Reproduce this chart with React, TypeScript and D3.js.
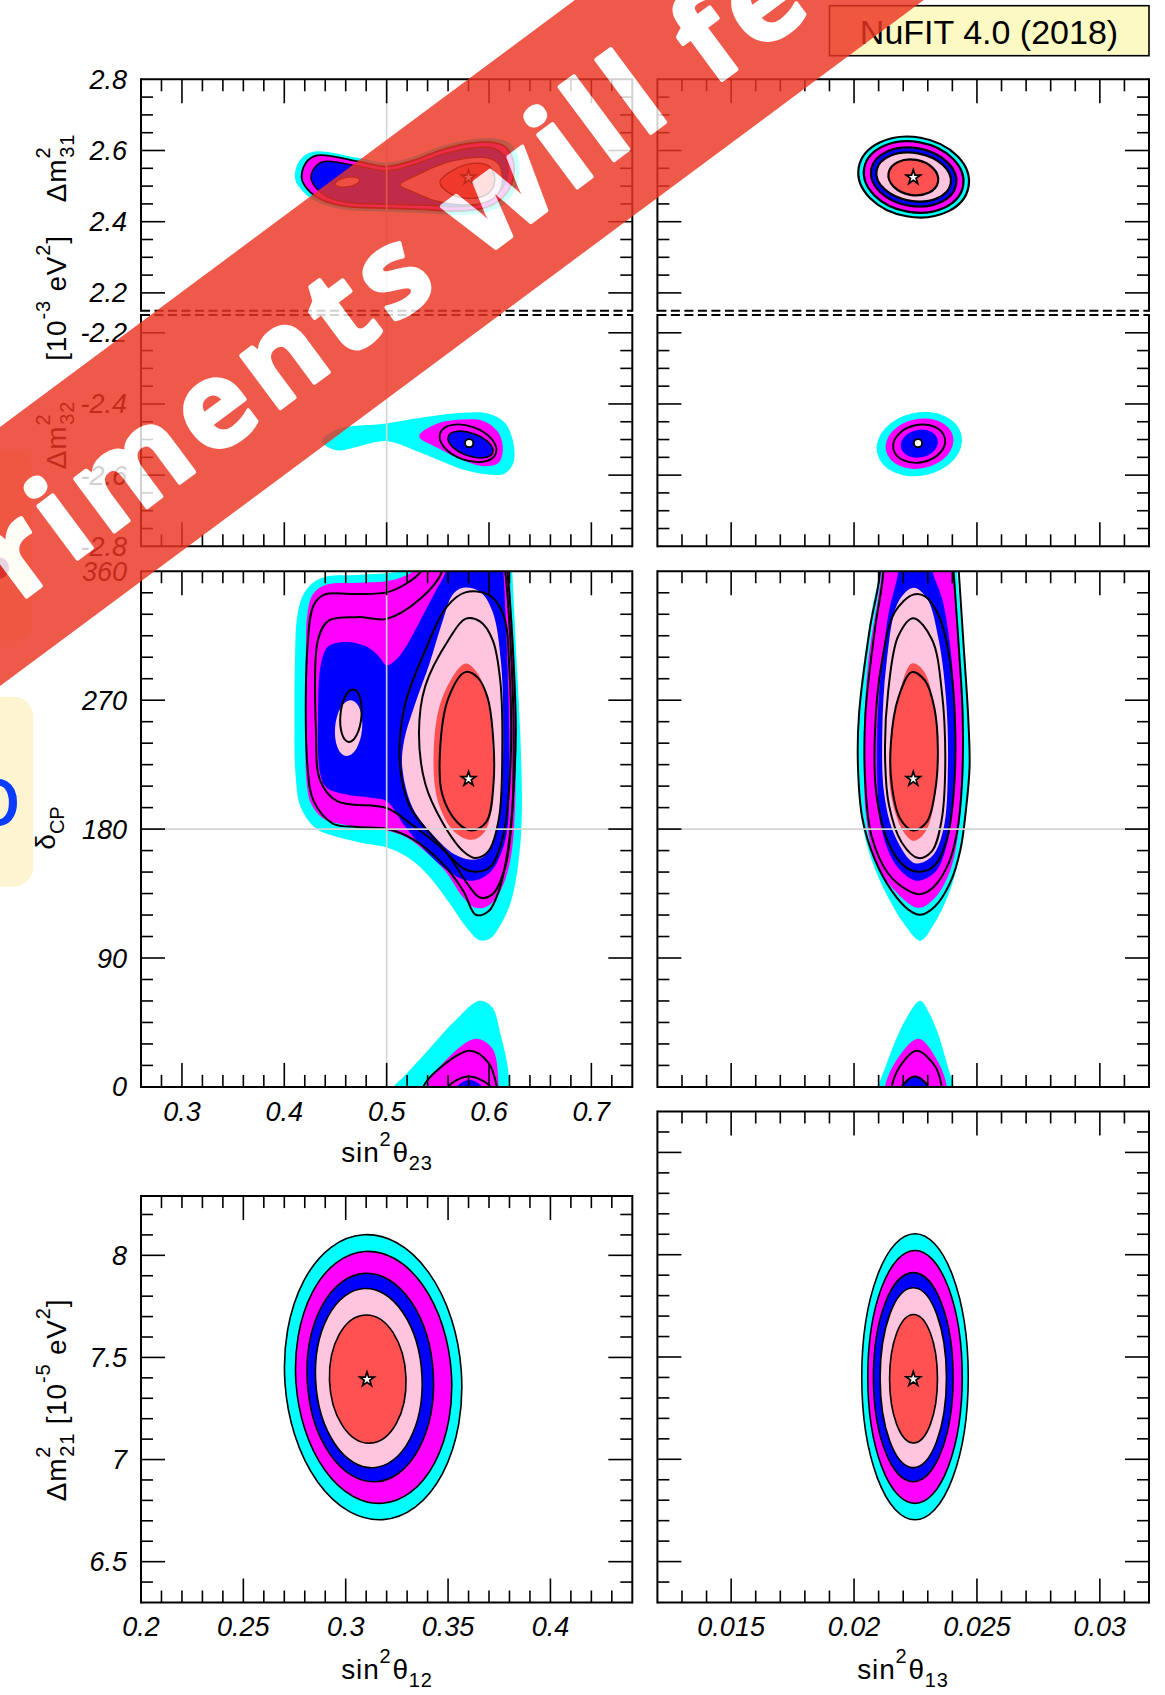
import React from 'react';
import * as d3 from 'd3';

type Pt = [number, number];
type Ell = [number, number, number, number, number]; // cx, cy, rx, ry (data units), tilt (deg)
type Shape = Pt[] | Ell;

// ---------------- axis ranges ----------------
const SIN2_TH23_RANGE: Pt = [0.26, 0.74];
const SIN2_TH12_RANGE: Pt = [0.2, 0.44];
const SIN2_TH13_RANGE: Pt = [0.012, 0.032];
const DM31_RANGE: Pt = [2.15, 2.8];
const DM32_RANGE: Pt = [-2.8, -2.15];
const DCP_RANGE: Pt = [0, 360];
const DM21_RANGE_LEFT: Pt = [6.3, 8.29];
const DM21_RANGE_RIGHT: Pt = [6.3, 8.7];

// tick steps [minor, major]
const SIN2_TH23_STEPS: Pt = [0.02, 0.1];
const SIN2_TH12_STEPS: Pt = [0.01, 0.05];
const SIN2_TH13_STEPS: Pt = [0.001, 0.005];
const DM3L_STEPS: Pt = [0.05, 0.2];
const DCP_STEPS: Pt = [15, 90];
const DM21_STEPS: Pt = [0.1, 0.5];

// tick labels
const SIN2_TH23_LABELS = [0.3, 0.4, 0.5, 0.6, 0.7];
const SIN2_TH12_LABELS = [0.2, 0.25, 0.3, 0.35, 0.4];
const SIN2_TH13_LABELS = [0.015, 0.02, 0.025, 0.03];
const DM31_LABELS = [2.2, 2.4, 2.6, 2.8];
const DM32_LABELS = [-2.2, -2.4, -2.6, -2.8];
const DCP_LABELS = [0, 90, 180, 270, 360];
const DM21_LABELS = [6.5, 7, 7.5, 8];

// reference lines
const GRID_TH23 = 0.5;
const GRID_DCP = 180;

// best-fit points
const BF_TH12 = 0.3104, BF_TH13 = 0.02241, BF_TH23 = 0.58, BF_DCP = 215, BF_DM21 = 7.392, BF_DM31 = 2.5245;
const BF_IO_TH23 = 0.5806, BF_IO_TH13 = 0.0226, BF_IO_DM32 = -2.51;

// ---------------- sin^2 th23 vs dm31 ----------------
const T23_DM31_CYAN: Pt[] = [[0.4104,2.5218],[0.4153,2.5732],[0.4283,2.5965],[0.4739,2.578],[0.4999,2.5656],[0.5259,2.5825],[0.552,2.6106],[0.5781,2.6294],[0.604,2.6342],[0.6204,2.6201],[0.6285,2.5825],[0.6294,2.5262],[0.6236,2.4796],[0.6106,2.4419],[0.5911,2.4234],[0.565,2.4186],[0.539,2.4234],[0.5005,2.4279],[0.4609,2.4327],[0.4348,2.4515],[0.4185,2.4841]];
const T23_DM31_MAGENTA: Pt[] = [[0.417,2.522],[0.421,2.565],[0.432,2.586],[0.474,2.568],[0.5,2.555],[0.526,2.572],[0.552,2.6],[0.578,2.619],[0.603,2.623],[0.616,2.61],[0.623,2.578],[0.624,2.527],[0.618,2.484],[0.606,2.452],[0.59,2.435],[0.565,2.43],[0.539,2.434],[0.5,2.438],[0.461,2.443],[0.437,2.461],[0.423,2.49]];
const T23_DM31_BLUE: Pt[] = [[0.426,2.523],[0.43,2.553],[0.439,2.569],[0.474,2.555],[0.5,2.543],[0.526,2.56],[0.552,2.587],[0.578,2.605],[0.601,2.609],[0.611,2.597],[0.617,2.575],[0.618,2.528],[0.612,2.49],[0.601,2.462],[0.587,2.447],[0.565,2.442],[0.539,2.446],[0.5,2.449],[0.462,2.454],[0.442,2.47],[0.431,2.495]];
const T23_DM31_PINK: Pt[] = [[0.513,2.503],[0.532,2.534],[0.552,2.56],[0.578,2.578],[0.6,2.578],[0.61,2.56],[0.613,2.51],[0.607,2.472],[0.594,2.452],[0.571,2.448],[0.546,2.46],[0.526,2.484]];
const T23_DM31_RED: Pt[] = [[0.552,2.5122],[0.565,2.5451],[0.5845,2.5639],[0.6008,2.5544],[0.6057,2.517],[0.5992,2.4796],[0.5813,2.4655],[0.5618,2.4796]];
const T23_DM31_ISLAND: Ell = [0.4617, 2.5114, 0.0122, 0.0132, -10];

// ---------------- sin^2 th23 vs dm32 ----------------
const T23_DM32_CYAN: Pt[] = [[0.4368,-2.5045],[0.4511,-2.4716],[0.4997,-2.4548],[0.5333,-2.4388],[0.5745,-2.4247],[0.5991,-2.4267],[0.6155,-2.4528],[0.6238,-2.509],[0.6238,-2.5652],[0.6155,-2.5952],[0.5989,-2.598],[0.5745,-2.584],[0.5334,-2.537],[0.4997,-2.5045],[0.4511,-2.5298]];
const T23_DM32_MAGENTA: Pt[] = [[0.5318,-2.4904],[0.5497,-2.4548],[0.5765,-2.4436],[0.595,-2.4483],[0.6093,-2.4809],[0.6135,-2.5278],[0.6093,-2.5652],[0.595,-2.5747],[0.5745,-2.5579],[0.5497,-2.523]];
const T23_DM32_RING: Ell = [0.5795, -2.5104, 0.0289, 0.0475, 20];
const T23_DM32_BLUE: Ell = [0.5819, -2.514, 0.0231, 0.0318, 20];

// ---------------- sin^2 th23 vs delta_CP ----------------
const T23_DCP_CYAN: Pt[] = [[0.58,376],[0.535,370],[0.5227,361.5],[0.505,359],[0.47,357.5],[0.442,356.5],[0.428,352],[0.418,343],[0.4125,328],[0.4105,300],[0.41,260],[0.4109,219],[0.4162,195],[0.4306,180.6],[0.4511,174.6],[0.4799,169.8],[0.4997,167.4],[0.521,160.1],[0.5416,146.9],[0.5621,127.6],[0.5786,110.8],[0.5909,102.4],[0.6011,103.6],[0.6114,113.2],[0.6217,130],[0.6287,156.6],[0.632,187.8],[0.6311,236],[0.6279,284.2],[0.6246,332.3],[0.6228,360],[0.622,372]];
const T23_DCP_MAGENTA: Pt[] = [[0.585,376],[0.535,368],[0.528,361],[0.517,356.5],[0.5,353],[0.472,352],[0.44,350.5],[0.428,344],[0.4225,330],[0.421,300],[0.421,250],[0.4215,215],[0.426,198],[0.437,188],[0.455,183.5],[0.48,181],[0.5,179],[0.52,174],[0.54,163],[0.558,150],[0.574,133],[0.587,125],[0.598,126],[0.608,133],[0.6165,146],[0.6225,166],[0.6255,195],[0.626,236],[0.6245,284],[0.6215,332],[0.62,360],[0.618,372]];
const T23_DCP_BLUE: Pt[] = [[0.563,376],[0.558,360],[0.546,343.7],[0.5337,326.8],[0.521,310],[0.509,298],[0.5,294.4],[0.4926,300.4],[0.48,307.6],[0.46,310.7],[0.443,307.6],[0.436,296],[0.433,260],[0.435,219],[0.4412,209.1],[0.4597,204.3],[0.4844,201.9],[0.5,199.5],[0.5173,182.6],[0.5337,168.2],[0.5543,153.8],[0.5728,145.4],[0.587,144.2],[0.6015,150.2],[0.612,163.4],[0.618,180.2],[0.62,223.5],[0.618,295.6],[0.614,360],[0.612,376]];
const T23_DCP_PINK: Pt[] = [[0.5748,348.5],[0.5912,345.7],[0.6036,331.6],[0.6118,295.6],[0.6139,247.5],[0.6118,199.5],[0.6056,175.4],[0.5954,161],[0.583,158.6],[0.5666,162.2],[0.546,175.4],[0.5255,194.7],[0.5152,223.5],[0.5173,242.7],[0.5275,266.8],[0.5419,295.6],[0.5543,324.4],[0.5645,343.7]];
const T23_DCP_PINK_ISLAND: Ell = [0.4628, 250.5, 0.0132, 19.5, 5];
const T23_DCP_RED: Pt[] = [[0.5769,295.6],[0.5543,271.6],[0.546,235.5],[0.5501,199.5],[0.5666,177.8],[0.583,172.5],[0.5954,177.8],[0.6036,199.5],[0.6036,235.5],[0.5995,266.8],[0.5892,288.4]];
const T23_DCP_CYAN_LOW: Pt[] = [[0.5,-10],[0.5066,0],[0.5168,7.3],[0.5416,26.5],[0.5662,45.8],[0.5909,60.2],[0.6032,55.5],[0.6114,36.2],[0.6176,16.9],[0.6205,0],[0.622,-10]];
const T23_DCP_MAGENTA_LOW: Pt[] = [[0.535,-10],[0.5378,0],[0.5584,19.2],[0.587,33.6],[0.6036,26.4],[0.6097,0],[0.611,-10]];
const T23_DCP_BLUE_LOW: Pt[] = [[0.566,-10],[0.5686,0],[0.581,4.8],[0.5933,0],[0.595,-10]];
const T23_DCP_LINE_1: Pt[] = [[0.54,372],[0.5337,360],[0.5173,350.6],[0.5,345.3],[0.4721,344.1],[0.4392,343.7],[0.4288,336.5],[0.4227,307.6],[0.4227,223.5],[0.4288,199.5],[0.4474,183.9],[0.4721,181.5],[0.5,180.2],[0.5255,173],[0.5543,156.2],[0.5748,137],[0.587,120.2],[0.5995,122.6],[0.6097,137],[0.618,163.4],[0.6233,199.5],[0.6262,247.5],[0.6241,295.6],[0.62,343.7],[0.618,360],[0.617,374],[0.58,378]];
const T23_DCP_LINE_2: Pt[] = [[0.556,374],[0.5543,360],[0.5337,341.3],[0.5,326.8],[0.4721,328],[0.4433,325.6],[0.433,312.4],[0.431,247.5],[0.4351,213.9],[0.4515,199.5],[0.5,194.7],[0.5255,182.6],[0.5584,163.4],[0.5789,141.8],[0.5912,132.2],[0.6036,134.6],[0.6159,153.8],[0.6221,185],[0.6241,247.5],[0.6221,295.6],[0.618,343.7],[0.6159,360],[0.615,374],[0.585,378]];
const T23_DCP_LINE_3: Pt[] = [[0.5769,345.3],[0.5584,335],[0.5378,305],[0.5173,265],[0.5132,223.5],[0.5234,194.7],[0.5501,170.7],[0.5748,152.6],[0.587,150.2],[0.6015,153.8],[0.6139,175.4],[0.6209,223.5],[0.62,290],[0.6139,330],[0.5995,343.7]];
const T23_DCP_LINE_4: Pt[] = [[0.5769,326.8],[0.5604,312],[0.5378,280],[0.5316,247.5],[0.5378,211.5],[0.5543,185],[0.5748,164.6],[0.587,159.8],[0.5995,164.6],[0.6097,187.4],[0.613,235.5],[0.611,283.6],[0.6036,312],[0.5912,325]];
const T23_DCP_LINE_5: Pt[] = [[0.5769,289.6],[0.5604,271.6],[0.5522,235.5],[0.5543,204.3],[0.5687,185],[0.583,179],[0.5974,185],[0.6044,211.5],[0.6036,247.5],[0.5987,271.6],[0.5892,285.6]];
const T23_DCP_LINE_ISLAND: Ell = [0.4651, 259.2, 0.0103, 18.4, 5];
const T23_DCP_LINE_LOW_1: Pt[] = [[0.533,-10],[0.5357,0],[0.55,12],[0.581,25.2],[0.5995,16.8],[0.6077,0],[0.609,-10]];
const T23_DCP_LINE_LOW_2: Pt[] = [[0.558,-10],[0.56,0],[0.5802,7.2],[0.6015,0],[0.603,-10]];

// ---------------- sin^2 th13 vs dm31 / dm32 ----------------
const T13_DM31_LEVELS: Ell[] = [
  [0.022425, 2.5255, 0.002268, 0.112, 10],
  [0.022425, 2.5255, 0.002044, 0.0989, 10],
  [0.022425, 2.5255, 0.001757, 0.0815, 10],
  [0.022425, 2.5255, 0.001533, 0.0675, 10],
  [0.022412, 2.5245, 0.001022, 0.0497, 10],
];
const T13_DM32_CYAN: Ell = [0.022657, -2.5129, 0.001757, 0.0889, -12];
const T13_DM32_MAGENTA: Ell = [0.022664, -2.5115, 0.001396, 0.0696, -12];
const T13_DM32_RING: Ell = [0.02265, -2.5115, 0.00107, 0.0527, -12];
const T13_DM32_BLUE: Ell = [0.022657, -2.5115, 0.000763, 0.0386, -12];

// ---------------- sin^2 th13 vs delta_CP ----------------
const T13_DCP_CYAN: Pt[] = [[0.0208,376],[0.02101,360],[0.02071,331.6],[0.02023,271.6],[0.02014,228.3],[0.0203,187.4],[0.02071,158.6],[0.02139,132.2],[0.02207,113],[0.02269,102.1],[0.02323,113],[0.02385,134.6],[0.02426,158.6],[0.02453,187.4],[0.02467,223.5],[0.0246,271.6],[0.02439,319.6],[0.02419,360],[0.02415,376],[0.0225,380]];
const T13_DCP_MAGENTA: Pt[] = [[0.0211,376],[0.02112,360],[0.02057,295.6],[0.0204,235.5],[0.0205,187.4],[0.02091,156.2],[0.02166,137],[0.02262,125],[0.0233,132.2],[0.02392,151.4],[0.02426,180.2],[0.02442,223.5],[0.02437,271.6],[0.02419,319.6],[0.02405,360],[0.024,376],[0.0225,380]];
const T13_DCP_BLUE: Pt[] = [[0.0218,376],[0.0218,360],[0.0214,330],[0.021,270],[0.02094,215],[0.02112,180],[0.0217,155],[0.02255,144],[0.0233,150],[0.02376,168],[0.02403,200],[0.0241,250],[0.02396,300],[0.0236,340],[0.0232,360],[0.0232,376],[0.0225,380]];
const T13_DCP_PINK: Pt[] = [[0.02241,348.5],[0.0218,338.5],[0.02132,295.6],[0.02115,247.5],[0.02123,204.3],[0.02166,175.4],[0.02248,156.2],[0.02317,161],[0.02364,180.2],[0.02382,223.5],[0.02374,271.6],[0.02344,312.4],[0.02296,341.3]];
const T13_DCP_RED: Pt[] = [[0.02235,295.6],[0.0218,271.6],[0.02146,237.9],[0.0215,204.3],[0.02194,180.2],[0.02241,171.8],[0.02289,177.8],[0.02327,199.5],[0.02341,237.9],[0.02323,269.2],[0.02282,290.8]];
const T13_DCP_CYAN_LOW: Pt[] = [[0.0209,-10],[0.02098,0],[0.0213,15],[0.02166,31.2],[0.0222,50],[0.02269,60.1],[0.0231,50],[0.02344,36],[0.0238,15],[0.02405,0],[0.0241,-10]];
const T13_DCP_MAGENTA_LOW: Pt[] = [[0.0212,-10],[0.02125,0],[0.02166,16.8],[0.02262,33.6],[0.02344,16.8],[0.02378,0],[0.0238,-10]];
const T13_DCP_BLUE_LOW: Pt[] = [[0.0219,-10],[0.02194,0],[0.02248,7.2],[0.02303,0],[0.0231,-10]];
const T13_DCP_LINE_1: Pt[] = [[0.0209,376],[0.02105,360],[0.02064,319.6],[0.0202,259.5],[0.02016,223.5],[0.02034,187.4],[0.02085,158.6],[0.02153,137],[0.02221,123.8],[0.02269,120.2],[0.0233,126.2],[0.02392,143],[0.02433,165.8],[0.02456,194.7],[0.0247,223.5],[0.02464,259.5],[0.02446,307.6],[0.02426,360],[0.0242,376],[0.0225,380]];
const T13_DCP_LINE_2: Pt[] = [[0.0211,376],[0.02119,360],[0.02085,319.6],[0.02046,259.5],[0.02046,211.5],[0.02071,175.4],[0.02139,149],[0.02221,137],[0.02269,134.6],[0.02323,139.4],[0.02385,156.2],[0.02419,177.8],[0.02439,211.5],[0.02442,259.5],[0.02426,307.6],[0.02405,360],[0.024,376],[0.0225,380]];
const T13_DCP_LINE_3: Pt[] = [[0.02241,343.7],[0.02166,331.6],[0.02112,295.6],[0.02085,247.5],[0.02091,204.3],[0.02139,170.7],[0.02207,153.8],[0.02269,150.2],[0.0233,155],[0.02378,173],[0.02405,204.3],[0.02412,247.5],[0.02392,295.6],[0.02344,329.2],[0.02289,342.5]];
const T13_DCP_LINE_4: Pt[] = [[0.02241,327.3],[0.0218,314.8],[0.02139,276.3],[0.02126,233],[0.02142,196.9],[0.02194,170.7],[0.02262,159.8],[0.02317,164.6],[0.02355,185],[0.02371,223.5],[0.02357,276.3],[0.02317,312.4]];
const T13_DCP_LINE_5: Pt[] = [[0.02235,289.6],[0.0218,271.6],[0.0215,240.3],[0.02153,211.5],[0.02187,187.4],[0.02241,179],[0.02296,185],[0.0233,206.7],[0.02341,235.5],[0.02327,264.4],[0.02289,283.6]];
const T13_DCP_LINE_LOW_1: Pt[] = [[0.0215,-10],[0.02153,0],[0.02187,14.4],[0.02255,25.2],[0.0233,14.4],[0.02357,0],[0.0236,-10]];

// ---------------- sin^2 th12 / sin^2 th13 vs dm21 ----------------
const T12_DM21_LEVELS: Ell[] = [
  [0.3134, 7.4033, 0.04316, 0.699, -4],
  [0.31364, 7.4024, 0.03802, 0.618, -4],
  [0.312, 7.4015, 0.03083, 0.511, -3],
  [0.31128, 7.3987, 0.026, 0.4396, -3],
  [0.31076, 7.394, 0.0187, 0.314, -2],
];
const T13_DM21_LEVELS: Ell[] = [
  [0.02248, 7.4033, 0.002166, 0.699, 0],
  [0.02248, 7.4024, 0.001921, 0.618, 0],
  [0.02241, 7.4015, 0.001621, 0.511, 0],
  [0.02241, 7.3987, 0.001349, 0.4396, 0],
  [0.02242, 7.394, 0.000974, 0.314, 0],
];

// ---------------- overlay text ----------------
const LEGEND_TEXT = 'NuFIT 4.0 (2018)';
const BANNER_TEXT = 'riments will fe';
const SIDE_GLYPH = 'O';

// =====================================================================
const FONT = "'Liberation Sans', Arial, Helvetica, sans-serif";
const COL = { cyan: '#00ffff', magenta: '#ff00ff', blue: '#0000ff', pink: '#ffc4de', red: '#ff5151', grid: '#d4d4d4' };
const LEVEL_FILLS = [COL.cyan, COL.magenta, COL.blue, COL.pink, COL.red];

interface Layer { d: Shape; fill?: string; stroke?: string; sw?: number; }
interface Marker { p: Pt; kind: 'star' | 'dot'; }
interface PanelCfg {
  id: string; px: Pt; py: Pt; xr: Pt; yr: Pt; xs: Pt; ys: Pt;
  tickTop: boolean; tickBottom: boolean; dashTop?: boolean; dashBottom?: boolean;
  yLabels?: number[]; xLabels?: number[]; xLabelBase?: number;
  gridX?: number; gridY?: number; layers: Layer[]; markers: Marker[];
}

const isEll = (d: Shape): boolean => typeof (d as any)[0] === 'number';

function tickVals(r: Pt, step: number): number[] {
  const lo = Math.min(r[0], r[1]), hi = Math.max(r[0], r[1]);
  const out: number[] = [];
  for (let i = Math.ceil(lo / step - 1e-6); i <= Math.floor(hi / step + 1e-6); i++) out.push(+(i * step).toFixed(8));
  return out;
}
const isMajor = (v: number, m: number) => Math.abs(v / m - Math.round(v / m)) < 1e-4;

function Panel({ cfg }: { cfg: PanelCfg }) {
  const { id, px, py, xr, yr, xs, ys } = cfg;
  const x = d3.scaleLinear().domain(xr).range(px);
  const y = d3.scaleLinear().domain(yr).range([py[1], py[0]]);
  const curve = d3.line<Pt>().x(d => x(d[0])).y(d => y(d[1])).curve(d3.curveCatmullRomClosed.alpha(0.5));
  const star = d3.symbol().type(d3.symbolStar).size(64)() as string;
  const [L, R] = px;
  const [T, B] = py;
  const MAJ = 24, MIN = 12;
  const xt = tickVals(xr, xs[0]).filter(v => Math.abs(x(v) - L) > 1 && Math.abs(x(v) - R) > 1);
  const yt = tickVals(yr, ys[0]).filter(v => Math.abs(y(v) - T) > 1 && Math.abs(y(v) - B) > 1);
  const tk = { stroke: '#000', strokeWidth: 1.6 };
  const fr = { stroke: '#000', strokeWidth: 2 };

  const drawShape = (l: Layer, i: number) => {
    const common = { fill: l.fill ?? 'none', stroke: l.stroke ?? 'none', strokeWidth: l.sw ?? 0 };
    if (isEll(l.d)) {
      const [cx, cy, rx, ry, rot] = l.d as Ell;
      const ex = x(cx), ey = y(cy);
      return <ellipse key={i} cx={ex} cy={ey} rx={Math.abs(x(cx + rx) - ex)} ry={Math.abs(y(cy + ry) - ey)}
        transform={`rotate(${rot} ${ex} ${ey})`} {...common} />;
    }
    return <path key={i} d={curve(l.d as Pt[]) as string} {...common} />;
  };

  return (
    <g>
      <clipPath id={`clip-${id}`}><rect x={L} y={T} width={R - L} height={B - T} /></clipPath>
      <g clipPath={`url(#clip-${id})`}>
        {cfg.layers.map(drawShape)}
        {cfg.gridX !== undefined && <line x1={x(cfg.gridX)} x2={x(cfg.gridX)} y1={T} y2={B} stroke={COL.grid} strokeWidth={1.6} />}
        {cfg.gridY !== undefined && <line x1={L} x2={R} y1={y(cfg.gridY)} y2={y(cfg.gridY)} stroke={COL.grid} strokeWidth={1.6} />}
        {cfg.markers.map((m, i) => m.kind === 'star'
          ? <path key={i} d={star} transform={`translate(${x(m.p[0])},${y(m.p[1])})`} fill="#fff" stroke="#000" strokeWidth={1.7} />
          : <circle key={i} cx={x(m.p[0])} cy={y(m.p[1])} r={4.2} fill="#fff" stroke="#000" strokeWidth={2} />)}
      </g>
      {xt.map(v => {
        const len = isMajor(v, xs[1]) ? MAJ : MIN;
        return <g key={`x${v}`}>
          {cfg.tickTop && <line x1={x(v)} x2={x(v)} y1={T} y2={T + len} {...tk} />}
          {cfg.tickBottom && <line x1={x(v)} x2={x(v)} y1={B} y2={B - len} {...tk} />}
        </g>;
      })}
      {yt.map(v => {
        const len = isMajor(v, ys[1]) ? MAJ : MIN;
        return <g key={`y${v}`}>
          <line x1={L} x2={L + len} y1={y(v)} y2={y(v)} {...tk} />
          <line x1={R} x2={R - len} y1={y(v)} y2={y(v)} {...tk} />
        </g>;
      })}
      <line x1={L} x2={L} y1={T} y2={B} {...fr} strokeLinecap="square" />
      <line x1={R} x2={R} y1={T} y2={B} {...fr} strokeLinecap="square" />
      <line x1={L} x2={R} y1={T} y2={T} {...fr} strokeDasharray={cfg.dashTop ? '9 4.5' : undefined} />
      <line x1={L} x2={R} y1={B} y2={B} {...fr} strokeDasharray={cfg.dashBottom ? '9 4.5' : undefined} />
      {(cfg.yLabels || []).map(v => (
        <text key={`yl${v}`} x={L - 14} y={y(v) + 9.5} textAnchor="end" fontSize={27} fontStyle="italic" fontFamily={FONT}>{String(v)}</text>
      ))}
      {(cfg.xLabels || []).map(v => (
        <text key={`xl${v}`} x={x(v)} y={cfg.xLabelBase} textAnchor="middle" fontSize={27} fontStyle="italic" fontFamily={FONT}>{String(v)}</text>
      ))}
    </g>
  );
}

function SinTitle({ cx, base, sub }: { cx: number; base: number; sub: string }) {
  return (
    <text x={cx} y={base} textAnchor="middle" fontSize={28} fontFamily={FONT} letterSpacing={0.8}>
      sin<tspan dy={-16} fontSize={20}>2</tspan><tspan dy={16} dx={1}>θ</tspan><tspan dy={8} fontSize={20}>{sub}</tspan>
    </text>
  );
}

export default function App() {
  const colL: Pt = [141, 632.3], colR: Pt = [657.4, 1149];
  const row1: Pt = [79.3, 310.7], row2: Pt = [315, 546.3], row3: Pt = [571.3, 1086.9];
  const row4L: Pt = [1196.1, 1602.5], row4R: Pt = [1111.5, 1602.5];
  const K = '#000';

  const levelLayers = (lv: Ell[], sw: number): Layer[] => lv.map((d, i) => ({ d, fill: LEVEL_FILLS[i], stroke: K, sw }));
  const lines = (arr: Shape[], sw = 2): Layer[] => arr.map(d => ({ d, stroke: K, sw }));

  const panels: PanelCfg[] = [
    {
      id: 'p1l', px: colL, py: row1, xr: SIN2_TH23_RANGE, yr: DM31_RANGE, xs: SIN2_TH23_STEPS, ys: DM3L_STEPS,
      tickTop: true, tickBottom: false, dashBottom: true, yLabels: DM31_LABELS, gridX: GRID_TH23,
      layers: [
        { d: T23_DM31_CYAN, fill: COL.cyan },
        { d: T23_DM31_MAGENTA, fill: COL.magenta, stroke: K, sw: 1.8 },
        { d: T23_DM31_BLUE, fill: COL.blue, stroke: K, sw: 1.4 },
        { d: T23_DM31_PINK, fill: COL.pink, stroke: K, sw: 1.4 },
        { d: T23_DM31_RED, fill: COL.red, stroke: K, sw: 1.4 },
        { d: T23_DM31_ISLAND, fill: COL.pink, stroke: K, sw: 1.4 },
      ],
      markers: [{ p: [BF_TH23, BF_DM31], kind: 'star' }],
    },
    {
      id: 'p1r', px: colR, py: row1, xr: SIN2_TH13_RANGE, yr: DM31_RANGE, xs: SIN2_TH13_STEPS, ys: DM3L_STEPS,
      tickTop: true, tickBottom: false, dashBottom: true,
      layers: levelLayers(T13_DM31_LEVELS, 2.2),
      markers: [{ p: [BF_TH13, BF_DM31], kind: 'star' }],
    },
    {
      id: 'p2l', px: colL, py: row2, xr: SIN2_TH23_RANGE, yr: DM32_RANGE, xs: SIN2_TH23_STEPS, ys: DM3L_STEPS,
      tickTop: false, tickBottom: true, dashTop: true, yLabels: DM32_LABELS, gridX: GRID_TH23,
      layers: [
        { d: T23_DM32_CYAN, fill: COL.cyan },
        { d: T23_DM32_MAGENTA, fill: COL.magenta },
        { d: T23_DM32_RING, stroke: K, sw: 1.9 },
        { d: T23_DM32_BLUE, fill: COL.blue, stroke: K, sw: 1.6 },
      ],
      markers: [{ p: [BF_IO_TH23, BF_IO_DM32], kind: 'dot' }],
    },
    {
      id: 'p2r', px: colR, py: row2, xr: SIN2_TH13_RANGE, yr: DM32_RANGE, xs: SIN2_TH13_STEPS, ys: DM3L_STEPS,
      tickTop: false, tickBottom: true, dashTop: true,
      layers: [
        { d: T13_DM32_CYAN, fill: COL.cyan },
        { d: T13_DM32_MAGENTA, fill: COL.magenta },
        { d: T13_DM32_RING, stroke: K, sw: 1.9 },
        { d: T13_DM32_BLUE, fill: COL.blue },
      ],
      markers: [{ p: [BF_IO_TH13, BF_IO_DM32], kind: 'dot' }],
    },
    {
      id: 'p3l', px: colL, py: row3, xr: SIN2_TH23_RANGE, yr: DCP_RANGE, xs: SIN2_TH23_STEPS, ys: DCP_STEPS,
      tickTop: true, tickBottom: true, yLabels: DCP_LABELS, xLabels: SIN2_TH23_LABELS, xLabelBase: 1121,
      gridX: GRID_TH23, gridY: GRID_DCP,
      layers: [
        { d: T23_DCP_CYAN, fill: COL.cyan },
        { d: T23_DCP_MAGENTA, fill: COL.magenta },
        { d: T23_DCP_BLUE, fill: COL.blue },
        { d: T23_DCP_PINK, fill: COL.pink },
        { d: T23_DCP_PINK_ISLAND, fill: COL.pink },
        { d: T23_DCP_RED, fill: COL.red },
        { d: T23_DCP_CYAN_LOW, fill: COL.cyan },
        { d: T23_DCP_MAGENTA_LOW, fill: COL.magenta },
        { d: T23_DCP_BLUE_LOW, fill: COL.blue },
        ...lines([T23_DCP_LINE_1, T23_DCP_LINE_2, T23_DCP_LINE_3, T23_DCP_LINE_4, T23_DCP_LINE_5, T23_DCP_LINE_ISLAND, T23_DCP_LINE_LOW_1, T23_DCP_LINE_LOW_2]),
      ],
      markers: [{ p: [BF_TH23, BF_DCP], kind: 'star' }],
    },
    {
      id: 'p3r', px: colR, py: row3, xr: SIN2_TH13_RANGE, yr: DCP_RANGE, xs: SIN2_TH13_STEPS, ys: DCP_STEPS,
      tickTop: true, tickBottom: true, gridY: GRID_DCP,
      layers: [
        { d: T13_DCP_CYAN, fill: COL.cyan },
        { d: T13_DCP_MAGENTA, fill: COL.magenta },
        { d: T13_DCP_BLUE, fill: COL.blue },
        { d: T13_DCP_PINK, fill: COL.pink },
        { d: T13_DCP_RED, fill: COL.red },
        { d: T13_DCP_CYAN_LOW, fill: COL.cyan },
        { d: T13_DCP_MAGENTA_LOW, fill: COL.magenta },
        { d: T13_DCP_BLUE_LOW, fill: COL.blue, stroke: K, sw: 2 },
        ...lines([T13_DCP_LINE_1, T13_DCP_LINE_2, T13_DCP_LINE_3, T13_DCP_LINE_4, T13_DCP_LINE_5, T13_DCP_LINE_LOW_1]),
      ],
      markers: [{ p: [BF_TH13, BF_DCP], kind: 'star' }],
    },
    {
      id: 'p4l', px: colL, py: row4L, xr: SIN2_TH12_RANGE, yr: DM21_RANGE_LEFT, xs: SIN2_TH12_STEPS, ys: DM21_STEPS,
      tickTop: true, tickBottom: true, yLabels: DM21_LABELS, xLabels: SIN2_TH12_LABELS, xLabelBase: 1636,
      layers: levelLayers(T12_DM21_LEVELS, 1.6),
      markers: [{ p: [BF_TH12, BF_DM21], kind: 'star' }],
    },
    {
      id: 'p4r', px: colR, py: row4R, xr: SIN2_TH13_RANGE, yr: DM21_RANGE_RIGHT, xs: SIN2_TH13_STEPS, ys: DM21_STEPS,
      tickTop: true, tickBottom: true, xLabels: SIN2_TH13_LABELS, xLabelBase: 1636,
      layers: levelLayers(T13_DM21_LEVELS, 1.6),
      markers: [{ p: [BF_TH13, BF_DM21], kind: 'star' }],
    },
  ];

  const sup = { fontSize: 20 };

  return (
    <svg width={1165} height={1695} viewBox="0 0 1165 1695" style={{ position: 'absolute', left: 0, top: 0, background: '#fff' }}
      xmlns="http://www.w3.org/2000/svg">
      <rect x={0} y={0} width={1165} height={1695} fill="#fff" />
      {panels.map(p => <Panel key={p.id} cfg={p} />)}

      {/* legend */}
      <rect x={829.5} y={5.7} width={319.5} height={50} fill="#fdf9c3" stroke="#000" strokeWidth={1.6} />
      <text x={989} y={43.5} textAnchor="middle" fontSize={34} fontFamily={FONT}>{LEGEND_TEXT}</text>

      {/* axis titles */}
      <SinTitle cx={387} base={1162} sub="23" />
      <SinTitle cx={387} base={1679} sub="12" />
      <SinTitle cx={903} base={1679} sub="13" />

      <text transform="translate(66,168) rotate(-90)" textAnchor="middle" fontSize={28} fontFamily={FONT} letterSpacing={0.8}>
        Δm<tspan dy={-16} {...sup}>2</tspan><tspan dx={-11} dy={24} {...sup}>31</tspan>
      </text>
      <text transform="translate(66,298) rotate(-90)" textAnchor="middle" fontSize={28} fontFamily={FONT} letterSpacing={0.8}>
        [10<tspan dy={-16} {...sup}>-3</tspan><tspan dy={16}>{' eV'}</tspan><tspan dy={-16} {...sup}>2</tspan><tspan dy={16}>]</tspan>
      </text>
      <text transform="translate(66,435) rotate(-90)" textAnchor="middle" fontSize={28} fontFamily={FONT} letterSpacing={0.8}>
        Δm<tspan dy={-16} {...sup}>2</tspan><tspan dx={-11} dy={24} {...sup}>32</tspan>
      </text>
      <text transform="translate(55,828) rotate(-90)" textAnchor="middle" fontSize={28} fontFamily={FONT}>
        δ<tspan dy={9} {...sup}>CP</tspan>
      </text>
      <text transform="translate(66,1400) rotate(-90)" textAnchor="middle" fontSize={28} fontFamily={FONT} letterSpacing={0.8}>
        Δm<tspan dy={-16} {...sup}>2</tspan><tspan dx={-11} dy={24} {...sup}>21</tspan><tspan dy={-8}>{' [10'}</tspan><tspan dy={-16} {...sup}>-5</tspan><tspan dy={16}>{' eV'}</tspan><tspan dy={-16} {...sup}>2</tspan><tspan dy={16}>]</tspan>
      </text>

      {/* side UI boxes */}
      <rect x={-20} y={450} width={52} height={191} rx={18} fill="#fdf5d2" />
      <circle cx={-2} cy={568} r={11} fill="#7a1c5c" />
      <rect x={-20} y={696.7} width={53.3} height={190} rx={20} fill="#fdf5d2" />
      <text x={21} y={825.5} textAnchor="end" fontSize={66} fontWeight={600} fill="#0a3cff" fontFamily="'Open Sans', 'Noto Sans', sans-serif">{SIDE_GLYPH}</text>

      {/* banner overlay */}
      <g opacity={0.82}>
        <g transform="translate(0,556.5) rotate(-36.6)">
          <rect x={-300} y={-104} width={2200} height={208} fill="#ec3523" />
          <text x={-12} y={48} fontSize={120} fontWeight={700} fill="#fff" stroke="#fff" strokeWidth={4} strokeLinejoin="round"
            textLength={990} lengthAdjust="spacing" fontFamily="'Open Sans', 'Noto Sans', sans-serif">{BANNER_TEXT}</text>
        </g>
      </g>
    </svg>
  );
}
